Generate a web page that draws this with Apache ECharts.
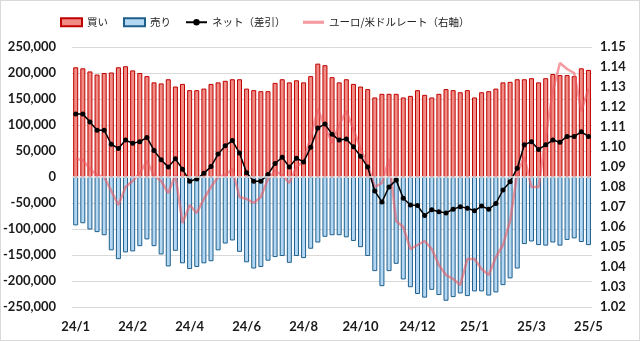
<!DOCTYPE html>
<html>
<head>
<meta charset="utf-8">
<script src="https://cdn.jsdelivr.net/npm/echarts/dist/echarts.min.js"></script>
<style>
  html, body { margin: 0; padding: 0; background: #fff; }
  #frame { position: absolute; left: 0; top: 0; width: 638px; height: 339px; border: 1px solid #d9d9d9; }
  #chart { position: absolute; left: 0; top: 0; width: 640px; height: 341px; }
</style>
</head>
<body>
<div id="frame"></div>
<div id="chart"></div>
<script>
// Weekly reporting dates (Tuesdays)
const weeks = [
  '2024/01/02','2024/01/09','2024/01/16','2024/01/23','2024/01/30',
  '2024/02/06','2024/02/13','2024/02/20','2024/02/27',
  '2024/03/05','2024/03/12','2024/03/19','2024/03/26',
  '2024/04/02','2024/04/09','2024/04/16','2024/04/23','2024/04/30',
  '2024/05/07','2024/05/14','2024/05/21','2024/05/28',
  '2024/06/04','2024/06/11','2024/06/18','2024/06/25',
  '2024/07/02','2024/07/09','2024/07/16','2024/07/23','2024/07/30',
  '2024/08/06','2024/08/13','2024/08/20','2024/08/27',
  '2024/09/03','2024/09/10','2024/09/17','2024/09/24',
  '2024/10/01','2024/10/08','2024/10/15','2024/10/22','2024/10/29',
  '2024/11/05','2024/11/12','2024/11/19','2024/11/26',
  '2024/12/03','2024/12/10','2024/12/17','2024/12/24','2024/12/31',
  '2025/01/07','2025/01/14','2025/01/21','2025/01/28',
  '2025/02/04','2025/02/11','2025/02/18','2025/02/25',
  '2025/03/04','2025/03/11','2025/03/18','2025/03/25',
  '2025/04/01','2025/04/08','2025/04/15','2025/04/22','2025/04/29',
  '2025/05/06','2025/05/13','2025/05/20'
];

// Long positions (買い)
const buy = [
  211000, 209000, 203000, 197000, 200000, 201000, 211000, 213000, 205000, 200000,
  194000, 182000, 180000, 188000, 174000, 179000, 167000, 167000, 170000, 179000,
  182000, 185000, 188000, 188000, 170000, 167000, 165000, 165000, 181000, 188000,
  182000, 186000, 182000, 194000, 218000, 215000, 192000, 182000, 188000, 179000,
  174000, 169000, 153000, 160000, 160000, 160000, 153000, 156000, 167000, 158000,
  153000, 160000, 169000, 167000, 163000, 167000, 153000, 163000, 165000, 170000,
  182000, 183000, 188000, 188000, 190000, 182000, 190000, 198000, 196000, 196000,
  194000, 209000, 206000
];

// Short positions (売り)
const sell = [
  -93000, -89000, -101000, -106000, -112000, -141000, -158000, -145000, -143000, -133000,
  -120000, -133000, -149000, -172000, -142000, -166000, -177000, -173000, -166000, -162000,
  -141000, -128000, -122000, -144000, -164000, -176000, -173000, -161000, -154000, -152000,
  -165000, -152000, -156000, -138000, -126000, -115000, -112000, -112000, -116000, -123000,
  -135000, -152000, -181000, -210000, -181000, -167000, -197000, -212000, -225000, -232000,
  -217000, -227000, -238000, -231000, -224000, -229000, -220000, -220000, -228000, -222000,
  -208000, -195000, -176000, -129000, -124000, -131000, -132000, -126000, -132000, -121000,
  -118000, -125000, -131000
];

// Net position (ネット)
const net = [
  121000, 121000, 106000, 90000, 90000, 63000, 55000, 71000, 65000, 68000,
  76000, 51000, 33000, 19000, 35000, 15000, -8000, -4000, 7000, 20000,
  44000, 60000, 70000, 46000, 8000, -8000, -8000, 5000, 26000, 38000,
  19000, 36000, 29000, 57000, 94000, 102000, 82000, 71000, 73000, 58000,
  40000, 19000, -27000, -48000, -19000, -6000, -41000, -54000, -55000, -74000,
  -63000, -67000, -69000, -62000, -57000, -60000, -65000, -56000, -62000, -51000,
  -25000, -9000, 17000, 62000, 68000, 53000, 62000, 71000, 67000, 78000,
  78000, 87000, 78000
];

// EUR/USD rate (right axis)
const eurusd = [
  1.094, 1.0935, 1.089, 1.086, 1.085, 1.078, 1.071, 1.080, 1.083, 1.087,
  1.093, 1.086, 1.083, 1.077, 1.086, 1.062, 1.071, 1.067, 1.074, 1.080,
  1.085, 1.086, 1.089, 1.075, 1.074, 1.072, 1.075, 1.084, 1.088, 1.086,
  1.082, 1.090, 1.093, 1.105, 1.119, 1.110, 1.102, 1.111, 1.118, 1.109,
  1.099, 1.091, 1.080, 1.082, 1.094, 1.063, 1.060, 1.049, 1.051, 1.053,
  1.049, 1.041, 1.036, 1.034, 1.031, 1.044, 1.044, 1.039, 1.036, 1.045,
  1.051, 1.063, 1.087, 1.095, 1.080, 1.080, 1.105, 1.128, 1.142, 1.139,
  1.137, 1.118, 1.129
];

const seriesNames = ['買い', '売り', 'ネット（差引）', 'ユーロ/米ドルレート（右軸）'];

const labelFont = {
  fontFamily: 'Lato, "Noto Sans", sans-serif',
  fontWeight: 'bold',
  fontSize: 13,
  color: '#1a1a1a'
};

const legendText = {
  fontFamily: '"Noto Sans CJK JP", sans-serif',
  fontSize: 10.5,
  color: '#222'
};

// one legend block per entry so each sits at its own spot on the top row
function legendAt(left, entry, extra) {
  return Object.assign({
    top: 12,
    left: left,
    itemWidth: 21,
    itemHeight: 8,
    textStyle: legendText,
    data: [entry]
  }, extra || {});
}

const chart = echarts.init(document.getElementById('chart'), null, { renderer: 'canvas' });

chart.setOption({
  animation: false,
  backgroundColor: 'transparent',
  legend: [
    legendAt(55, { name: seriesNames[0], icon: 'rect' }),
    legendAt(118, { name: seriesNames[1], icon: 'rect' }),
    legendAt(180, seriesNames[2]),
    legendAt(298, { name: seriesNames[3], icon: 'path://M0,0H20V3H0Z' })
  ],
  grid: { left: 72, right: 48, top: 47, bottom: 34, containLabel: false },
  xAxis: {
    type: 'category',
    data: weeks,
    axisLine: { show: false, onZero: false },
    axisTick: { show: false },
    splitLine: { show: false },
    axisLabel: Object.assign({}, labelFont, {
      interval: 7,
      margin: 13,
      formatter: function (v) {
        const p = v.split('/');
        return p[0].slice(2) + '/' + parseInt(p[1], 10);
      }
    })
  },
  yAxis: [
    {
      type: 'value',
      min: -250000,
      max: 250000,
      interval: 50000,
      axisLine: { show: false },
      axisTick: { show: false },
      splitLine: { lineStyle: { color: '#d9d9d9', width: 1 } },
      axisLabel: Object.assign({}, labelFont, {
        margin: 16,
        formatter: function (v) { return v.toLocaleString('en-US'); }
      })
    },
    {
      type: 'value',
      min: 1.02,
      max: 1.15,
      interval: 0.01,
      position: 'right',
      axisLine: { show: false },
      axisTick: { show: false },
      splitLine: { show: false },
      axisLabel: Object.assign({}, labelFont, {
        margin: 8,
        formatter: function (v) { return v.toFixed(2); }
      })
    }
  ],
  series: [
    {
      name: seriesNames[0],
      type: 'bar',
      data: buy,
      barWidth: 5,
      barGap: '-100%',
      z: 2,
      itemStyle: { color: '#F08C84', borderColor: '#C00000', borderWidth: 1 }
    },
    {
      name: seriesNames[1],
      type: 'bar',
      data: sell,
      barWidth: 5,
      barGap: '-100%',
      z: 2,
      itemStyle: { color: '#B4D8F4', borderColor: '#1F5F8B', borderWidth: 1 },
      // horizontal axis line at zero, drawn over the bar edges
      markLine: {
        silent: true,
        symbol: 'none',
        label: { show: false },
        lineStyle: { color: '#eeeeee', width: 1.5, type: 'solid' },
        data: [{ yAxis: 0 }]
      }
    },
    {
      name: seriesNames[3],
      type: 'line',
      yAxisIndex: 1,
      data: eurusd,
      symbol: 'none',
      z: 3,
      itemStyle: { color: 'rgba(236,90,98,0.6)' },
      lineStyle: { color: 'rgba(236,90,98,0.6)', width: 2.5 }
    },
    {
      name: seriesNames[2],
      type: 'line',
      data: net,
      symbol: 'circle',
      symbolSize: 5,
      showAllSymbol: true,
      z: 4,
      itemStyle: { color: '#000' },
      lineStyle: { color: '#000', width: 1.5 }
    }
  ]
});
</script>
</body>
</html>
